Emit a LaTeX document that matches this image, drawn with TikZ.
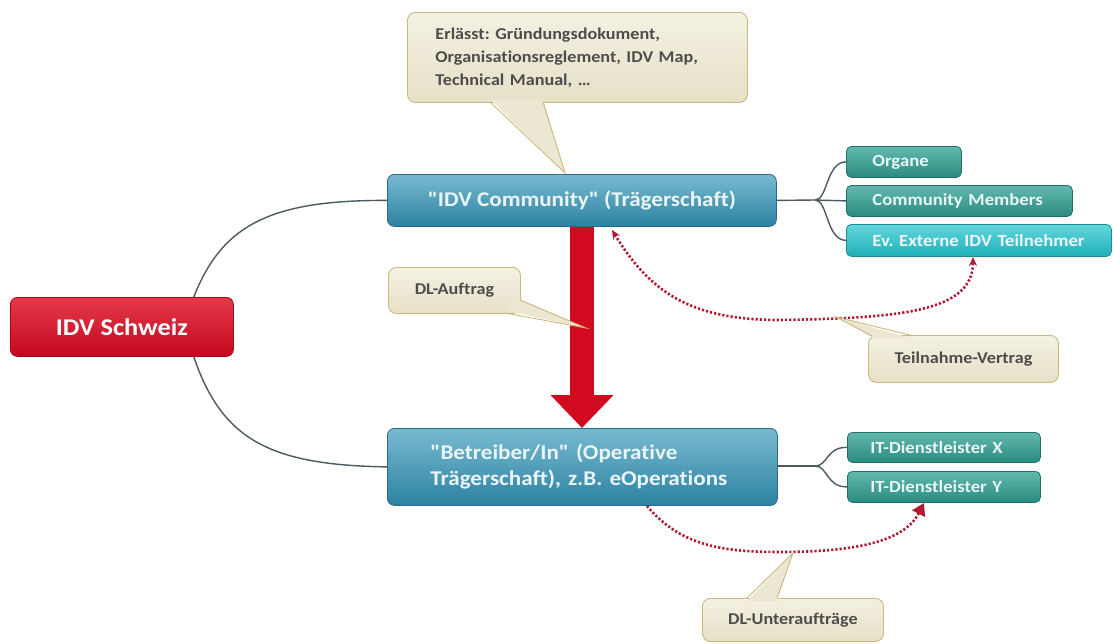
\documentclass[tikz,border=0pt]{standalone}
\usepackage{fontspec}
\setmainfont{Carlito}[Ligatures={TeXOff,NoCommon}, FakeStretch=1.1]
\usetikzlibrary{arrows.meta,calc}
\definecolor{redTop}{HTML}{E43A4B}
\definecolor{redBot}{HTML}{C4071D}
\definecolor{redLine}{HTML}{A8061A}
\definecolor{blueTop}{HTML}{78BAD1}
\definecolor{blueBot}{HTML}{2C82A2}
\definecolor{blueLine}{HTML}{2A6A82}
\definecolor{tealTop}{HTML}{63B8AE}
\definecolor{tealBot}{HTML}{2A8B80}
\definecolor{tealLine}{HTML}{246F67}
\definecolor{cyanTop}{HTML}{63D6DC}
\definecolor{cyanBot}{HTML}{1FAFB9}
\definecolor{cyanLine}{HTML}{1A8D95}
\definecolor{beigeTop}{HTML}{F4F1E3}
\definecolor{beigeBot}{HTML}{E6E0C6}
\definecolor{beigeLine}{HTML}{CBB97C}
\definecolor{noteText}{HTML}{4D4D4D}
\definecolor{boxText}{HTML}{EAF5F8}
\definecolor{linkGray}{HTML}{4C5A60}
\definecolor{arrowRed}{HTML}{D20A1F}
\definecolor{dotRed}{HTML}{B01A32}
\begin{document}
\frenchspacing
\begin{tikzpicture}[x=1pt,y=-1pt,
  basebox/.style={anchor=north west, rounded corners=7pt, inner ysep=0pt, font=\bfseries},
  redbox/.style={basebox, top color=redTop, bottom color=redBot, draw=redLine, line width=0.8pt, text=white, font=\fontsize{24}{28}\selectfont\bfseries},
  bluebox/.style={basebox, top color=blueTop, bottom color=blueBot, draw=blueLine, line width=0.8pt, text=boxText, font=\fontsize{21}{25}\selectfont\bfseries},
  tealbox/.style={basebox, rounded corners=5pt, top color=tealTop, bottom color=tealBot, draw=tealLine, line width=0.8pt, text=boxText, font=\fontsize{17}{20}\selectfont\bfseries, align=left, inner xsep=0pt},
  cyanbox/.style={tealbox, top color=cyanTop, bottom color=cyanBot, draw=cyanLine},
  notebox/.style={anchor=north west, rounded corners=8pt, top color=beigeTop, bottom color=beigeBot, draw=beigeLine, line width=0.9pt, text=noteText, font=\fontsize{16.5}{23}\selectfont\bfseries, inner ysep=0pt},
  pointerfill/.style={fill=beigeBot!60!beigeTop},
  pointerline/.style={draw=beigeLine, line width=0.9pt},
  link/.style={draw=linkGray, line width=1.4pt},
  dotlink/.style={draw=dotRed, line width=2.6pt, dash pattern=on 2.2pt off 2pt},
]
\useasboundingbox (0,0) rectangle (1113,643);

% main nodes
\node[redbox, minimum width=223, minimum height=59] (root) at (10,297) {IDV Schweiz};
\node[bluebox, minimum width=389, minimum height=52] (comm) at (387,174) {"IDV Community" (Trägerschaft)};
\node[bluebox, minimum width=390, minimum height=77, text width=390, inner xsep=0pt, align=left, font=\fontsize{21}{26}\selectfont\bfseries] (betr) at (387,428)
  {\hspace*{43pt}"Betreiber/In" (Operative\\\hspace*{43pt}Trägerschaft), z.B. eOperations};

% sub nodes
\node[tealbox, minimum width=115, minimum height=31, text width=115] (org) at (846,146) {\hspace*{26pt}Organe};
\node[tealbox, minimum width=226, minimum height=31, text width=226] (mem) at (846,185) {\hspace*{26pt}Community Members};
\node[cyanbox, minimum width=265, minimum height=32, text width=265] (ext) at (846,224) {\hspace*{26pt}Ev. Externe IDV Teilnehmer};
\node[tealbox, minimum width=193, minimum height=30, text width=193] (itx) at (847,432) {\hspace*{23pt}IT-Dienstleister X};
\node[tealbox, minimum width=193, minimum height=31, text width=193] (ity) at (847,471) {\hspace*{23pt}IT-Dienstleister Y};

% links root -> main
\draw[link] ($(root.north east)+(-40,0)$) .. controls (222,225) and (270,200) .. (comm.west);
\draw[link] ($(root.south east)+(-40,0)$) .. controls (222,440) and (270,465) .. (betr.west);

% links to subnodes
\coordinate (j1) at (815,200);
\draw[link] (comm.east) -- (j1);
\draw[link] (j1) .. controls (828,200) and (826,162) .. (org.west);
\draw[link] (j1) -- (mem.west);
\draw[link] (j1) .. controls (828,200) and (826,240) .. (ext.west);
\coordinate (j2) at (815,466);
\draw[link] (betr.east |- j2) -- (j2);
\draw[link] (j2) .. controls (828,466) and (826,447) .. (itx.west);
\draw[link] (j2) .. controls (828,466) and (826,487) .. (ity.west);

% thick red arrow
\draw[arrowRed, line width=24pt, -{Triangle[width=61pt,length=33pt]}] (comm.south -| 582,0) -- (betr.north -| 582,0);

% dotted red arrows
\coordinate (t1) at (612,230);
\coordinate (t2) at (973,257);
\coordinate (tm) at (780,320);
\draw[dotlink, {Stealth[length=9pt,width=8pt,open]}-{Stealth[length=9pt,width=8pt,open]}]
  (t1) .. controls (650,292) and (690,320) .. (tm) .. controls (900,318) and (973,312) .. (t2);
\coordinate (u1) at (647,506);
\coordinate (u2) at (924,503);
\coordinate (um) at (780,552);
\draw[dotlink, -{Triangle[length=12pt,width=14pt]}]
  (u1) .. controls (680,545) and (720,552) .. (um) .. controls (860,552) and (905,540) .. (u2);

% callouts
\node[notebox, minimum width=340, minimum height=90, text width=340, inner xsep=0pt, align=left] (n1) at (407,12)
  {\hspace*{28pt}Erlässt: Gründungsdokument,\\\hspace*{28pt}Organisationsreglement, IDV Map,\\\hspace*{28pt}Technical Manual, …};
\coordinate (p1) at (565,173);
\fill[pointerfill] (490,99) -- (p1) -- (543,99) -- cycle;
\draw[pointerline] (490,102) -- (p1) -- (543,102);

\node[notebox, minimum width=132, minimum height=46] (n2) at (388,267) {DL-Auftrag};
\coordinate (p2) at (586,328);
\fill[pointerfill] (503,310) -- (p2) -- (517,298) -- cycle;
\draw[pointerline] (505,313) -- (p2) -- (520,300);

\node[notebox, minimum width=190, minimum height=47] (n3) at (868,335) {Teilnahme-Vertrag};
\coordinate (p3) at (836,317);
\fill[pointerfill] (874,338) -- (p3) -- (910,338) -- cycle;
\draw[pointerline] (872,336) -- (p3) -- (910,335);

\node[notebox, minimum width=181, minimum height=43] (n4) at (702,598) {DL-Unteraufträge};
\coordinate (p4) at (793,553);
\fill[pointerfill] (747,601) -- (p4) -- (777,601) -- cycle;
\draw[pointerline] (747,598) -- (p4) -- (777,598);
\end{tikzpicture}
\end{document}
